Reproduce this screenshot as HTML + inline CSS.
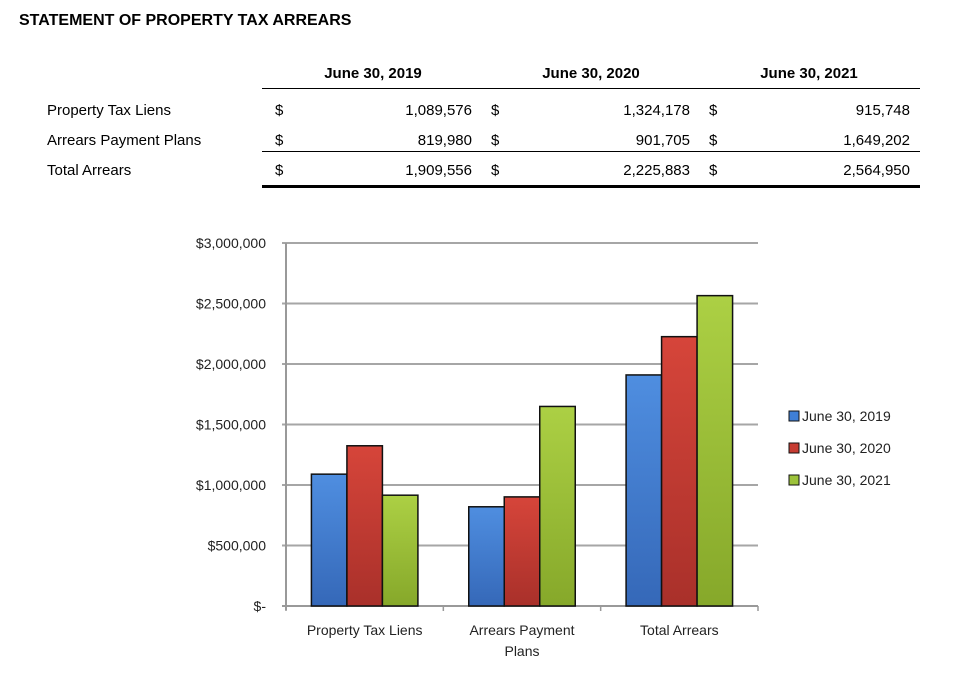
<!DOCTYPE html>
<html><head><meta charset="utf-8"><style>
body{margin:0;width:967px;height:683px;background:#fff;font-family:"Liberation Sans",sans-serif;color:#000;position:relative;overflow:hidden}
.t{position:absolute;white-space:nowrap;font-size:15px}
.b{font-weight:bold}
.r{text-align:right}
.c{text-align:center}
.ln{position:absolute;background:#000}
</style></head><body>
<div class="t b" style="left:19px;top:12px;font-size:16px">STATEMENT OF PROPERTY TAX ARREARS</div>
<div class="t b c" style="left:300px;top:65px;width:146px">June 30, 2019</div>
<div class="t b c" style="left:518px;top:65px;width:146px">June 30, 2020</div>
<div class="t b c" style="left:736px;top:65px;width:146px">June 30, 2021</div>
<div class="ln" style="left:262px;top:88px;width:658px;height:1px"></div>
<div id="tbl"></div>
<div class="ln" style="left:262px;top:151px;width:658px;height:1px"></div>
<div class="ln" style="left:262px;top:185px;width:658px;height:3px"></div>
<svg id="chart" width="967" height="683" style="position:absolute;left:0;top:0">
<defs>
<linearGradient id="g0" x1="0" x2="0" y1="0" y2="1"><stop offset="0" stop-color="#4f8ee0"/><stop offset="1" stop-color="#3568b8"/></linearGradient>
<linearGradient id="g1" x1="0" x2="0" y1="0" y2="1"><stop offset="0" stop-color="#d6453a"/><stop offset="1" stop-color="#a9302a"/></linearGradient>
<linearGradient id="g2" x1="0" x2="0" y1="0" y2="1"><stop offset="0" stop-color="#acd044"/><stop offset="1" stop-color="#86a82a"/></linearGradient>
</defs>
</svg>
<script>
const categories=["Property Tax Liens","Arrears Payment Plans","Total Arrears"];
const catLabels=[["Property Tax Liens"],["Arrears Payment","Plans"],["Total Arrears"]];
const series=["June 30, 2019","June 30, 2020","June 30, 2021"];
const v2019=[1089576,819980,1909556];
const v2020=[1324178,901705,2225883];
const v2021=[915748,1649202,2564950];
const yTicks=[0,500000,1000000,1500000,2000000,2500000,3000000];
const yTickLabels=["$-","$500,000","$1,000,000","$1,500,000","$2,000,000","$2,500,000","$3,000,000"];
const values=[v2019,v2020,v2021];
const fmt=n=>n.toLocaleString('en-US');

const tbl=document.getElementById('tbl');
const rowNames=["Property Tax Liens","Arrears Payment Plans","Total Arrears"];
const rowY=[102,132,162];
const dollarX=[275,491,709];
const numRight=[472,690,910];
rowNames.forEach((nm,i)=>{
  let d=document.createElement('div');d.className='t';d.style.left='47px';d.style.top=rowY[i]+'px';d.textContent=nm;
  
  
  tbl.appendChild(d);
  values.forEach((s,j)=>{
    let ds=document.createElement('div');ds.className='t';ds.style.left=dollarX[j]+'px';ds.style.top=rowY[i]+'px';ds.textContent='$';
    
    
    tbl.appendChild(ds);
    let dn=document.createElement('div');dn.className='t r';dn.style.left=(numRight[j]-120)+'px';dn.style.width='120px';dn.style.top=rowY[i]+'px';dn.textContent=fmt(s[i]);
    
    
    tbl.appendChild(dn);
  });
});

const svg=document.getElementById('chart');const NS='http://www.w3.org/2000/svg';
const X0=286,X1=758,Y0=606,Y1=243,YMAX=3000000;
const y=v=>Y0-(v/YMAX)*(Y0-Y1);
const gw=(X1-X0)/categories.length,bw=35.5;
const bx=(c,s)=>X0+gw*c+gw/2-bw*1.5+bw*s;
function el(t,a){const e=document.createElementNS(NS,t);for(const k in a)e.setAttribute(k,a[k]);svg.appendChild(e);return e;}
yTicks.forEach((t,i)=>{
  const l=el('line',{x1:X0-4,x2:X1,y1:y(t),y2:y(t),stroke:i==0?'#999':'#a6a6a6','stroke-width':2});
  
  
  const tx=el('text',{x:266,y:y(t)+5,'text-anchor':'end','font-size':14,'font-family':'Liberation Sans, sans-serif',fill:'#222'});
  tx.textContent=yTickLabels[i];
  
  
});
const ax=el('line',{x1:X0,x2:X0,y1:Y1,y2:Y0+4,stroke:'#999','stroke-width':2});


for(let c=0;c<=categories.length;c++){
  const tk=el('line',{x1:X0+gw*c,x2:X0+gw*c,y1:Y0,y2:Y0+5,stroke:'#999','stroke-width':1.5});
  
  
}
categories.forEach((cat,c)=>{
  values.forEach((s,j)=>{
    const r=el('rect',{x:bx(c,j),y:y(s[c]),width:bw,height:Y0-y(s[c]),fill:`url(#g${j})`,stroke:'#111','stroke-width':1.5});
    
    
  });
  catLabels[c].forEach((ln,k)=>{
    const t=el('text',{x:X0+gw*c+gw/2,y:635+k*21,'text-anchor':'middle','font-size':14,'font-family':'Liberation Sans, sans-serif',fill:'#222'});
    t.textContent=ln;
    
    
  });
});
const cols=['#3f7fd6','#c63c32','#9cc23a'];
series.forEach((s,j)=>{
  const ly=416+j*32;
  const r=el('rect',{x:789,y:ly-5,width:10,height:10,fill:cols[j],stroke:'#111','stroke-width':1});
  
  
  const t=el('text',{x:802,y:ly+5,'font-size':14,'font-family':'Liberation Sans, sans-serif',fill:'#222'});
  t.textContent=s;
  
  
});
</script>
</body></html>
